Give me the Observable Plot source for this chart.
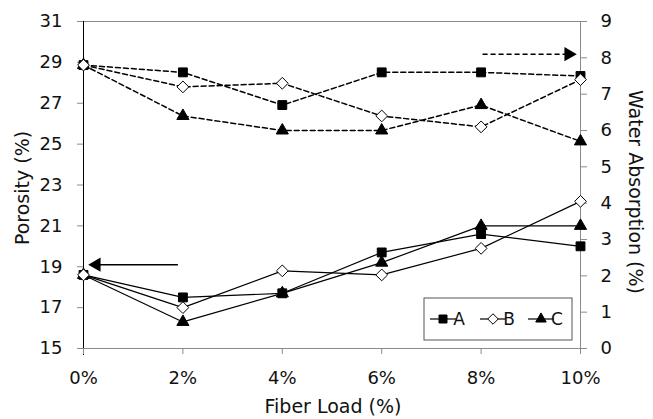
<!DOCTYPE html>
<html>
<head>
<meta charset="utf-8">
<script src="https://cdn.jsdelivr.net/npm/d3@7"></script>
<script src="https://cdn.jsdelivr.net/npm/@observablehq/plot@0.6"></script>
<style>
  html, body { margin: 0; padding: 0; background: white; }
  [aria-label$="axis tick"] { stroke: #8a8a8a; }
</style>
</head>
<body>
<div id="chart"></div>
<script>
// ---- data ----
const fiberLoad = [0, 2, 4, 6, 8, 10];            // %
const seriesNames = ["A", "B", "C"];
const porosityA = [18.6, 17.5, 17.7, 19.7, 20.6, 20.0];
const porosityB = [18.6, 17.0, 18.8, 18.6, 19.9, 22.2];
const porosityC = [18.6, 16.3, 17.7, 19.2, 21.0, 21.0];
const waterA = [7.8, 7.6, 6.7, 7.6, 7.6, 7.5];
const waterB = [7.8, 7.2, 7.3, 6.4, 6.1, 7.4];
const waterC = [7.8, 6.4, 6.0, 6.0, 6.7, 5.7];
const porosityTicks = [15, 17, 19, 21, 23, 25, 27, 29, 31];
const waterTicks = [0, 1, 2, 3, 4, 5, 6, 7, 8, 9];
// annotation arrows (data units)
const arrowPorosity = {from: 1.9, to: 0.16, value: 19.1};   // points to left axis
const arrowWater = {from: 8.03, to: 9.86, value: 8.1};      // points to right axis

// ---- build tables ----
const pMin = 15, pMax = 31, wMin = 0, wMax = 9;
const toP = w => pMin + (w - wMin) * (pMax - pMin) / (wMax - wMin);
const fromP = p => wMin + (p - pMin) * (wMax - wMin) / (pMax - pMin);

const porosity = {A: porosityA, B: porosityB, C: porosityC};
const water = {A: waterA, B: waterB, C: waterC};
const porRows = [], watRows = [];
for (const s of seriesNames) {
  fiberLoad.forEach((x, i) => {
    porRows.push({load: x, value: porosity[s][i], series: s});
    watRows.push({load: x, value: toP(water[s][i]), series: s});
  });
}
const style = {
  A: {symbol: "square", fill: "black", r: 5},
  B: {symbol: "diamond2", fill: "white", r: 5.3},
  C: {symbol: "triangle", fill: "black", r: 4.5}
};
const drawOrder = ["C", "A", "B"];
const dotMarks = drawOrder.map(s =>
  Plot.dot([...watRows, ...porRows].filter(d => d.series === s),
    {x: "load", y: "value", symbol: style[s].symbol, fill: style[s].fill, stroke: "black", strokeWidth: 1, r: style[s].r}));

const arrowP = [{x1: arrowPorosity.from, x2: arrowPorosity.to, y: arrowPorosity.value}];
const arrowW = [{x1: arrowWater.from, x2: arrowWater.to, y: toP(arrowWater.value)}];

const W = 653, H = 419;
const mL = 83, mR = 73, mT = 21, mB = 71;

const chart = Plot.plot({
  width: W, height: H,
  marginLeft: mL, marginRight: mR, marginTop: mT, marginBottom: mB,
  style: {fontFamily: "'DejaVu Sans', Verdana, sans-serif", fontSize: "18px", color: "#111", background: "white", overflow: "visible"},
  x: {domain: [0, 10]},
  y: {domain: [pMin, pMax]},
  marks: [
    // frame
    Plot.ruleY([pMax], {stroke: "#8a8a8a", strokeWidth: 1}),
    Plot.ruleY([pMin], {stroke: "#8a8a8a", strokeWidth: 1}),
    Plot.ruleX([10], {stroke: "#8a8a8a", strokeWidth: 1}),
    Plot.ruleX([0], {stroke: "black", strokeWidth: 1, insetBottom: -7}),
    // axes
    Plot.axisX(fiberLoad, {tickFormat: d => d + "%", tickSize: 6, tickPadding: 17, label: null, fontSize: 18}),
    Plot.axisY(porosityTicks, {anchor: "left", tickSize: 6, tickPadding: 15, label: null, fontSize: 18}),
    Plot.axisY(waterTicks.map(toP), {anchor: "right", tickFormat: d => String(Math.round(fromP(d))), tickSize: 6, tickPadding: 14, label: null, fontSize: 18}),
    // water absorption (dashed) and porosity (solid)
    Plot.line(watRows, {x: "load", y: "value", z: "series", stroke: "black", strokeWidth: 1.5, strokeDasharray: "5,3"}),
    Plot.line(porRows, {x: "load", y: "value", z: "series", stroke: "black", strokeWidth: 1.2}),
    ...dotMarks,
    // annotation arrows
    Plot.link(arrowP, {x1: "x1", x2: "x2", y1: "y", y2: "y", stroke: "black", strokeWidth: 1.5}),
    Plot.dot(arrowP, {x: "x2", y: "y", symbol: "triangle", rotate: -90, dx: 5, r: 5.3, fill: "black", stroke: "none"}),
    Plot.link(arrowW, {x1: "x1", x2: "x2", y1: "y", y2: "y", stroke: "black", strokeWidth: 1.5, strokeDasharray: "5,3"}),
    Plot.dot(arrowW, {x: "x2", y: "y", symbol: "triangle", rotate: 90, dx: -5, r: 5.3, fill: "black", stroke: "none"})
  ]
});

const svg = d3.select(chart);
// axis titles
svg.append("text").text("Porosity (%)")
  .attr("transform", `translate(${22},${188}) rotate(-90)`)
  .attr("text-anchor", "middle").attr("dominant-baseline", "central")
  .attr("font-size", 19).attr("fill", "#111");
svg.append("text").text("Water Absorption (%)")
  .attr("transform", `translate(${636},${192}) rotate(90)`)
  .attr("text-anchor", "middle").attr("dominant-baseline", "central")
  .attr("font-size", 19).attr("fill", "#111");
svg.append("text").text("Fiber Load (%)")
  .attr("x", 333).attr("y", 413)
  .attr("text-anchor", "middle")
  .attr("font-size", 19).attr("fill", "#111");

// legend
const lg = svg.append("g").attr("transform", "translate(424,298)");
lg.append("rect").attr("width", 148).attr("height", 42)
  .attr("fill", "white").attr("stroke", "#555").attr("stroke-width", 1);
const symMap = {A: [d3.symbolSquare, 64], B: [d3.symbolDiamond2, 70], C: [d3.symbolTriangle, 48]};
const entryX = [6, 56, 104];
seriesNames.forEach((s, i) => {
  const g = lg.append("g").attr("transform", `translate(${entryX[i]},21)`);
  g.append("line").attr("x1", 0).attr("x2", 26).attr("y1", 0).attr("y2", 0)
    .attr("stroke", "black").attr("stroke-width", 1.2);
  g.append("path").attr("d", d3.symbol(symMap[s][0], symMap[s][1])())
    .attr("transform", "translate(13,0)")
    .attr("fill", style[s].fill).attr("stroke", "black");
  g.append("text").text(s).attr("x", 29).attr("y", 0)
    .attr("dominant-baseline", "central").attr("font-size", 17).attr("fill", "#111");
});

document.getElementById("chart").appendChild(chart);
</script>
</body>
</html>
